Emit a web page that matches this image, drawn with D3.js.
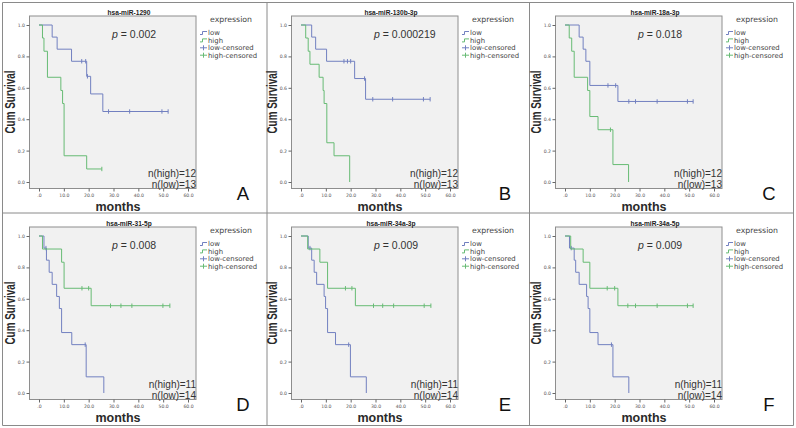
<!DOCTYPE html>
<html lang="en">
<head>
<meta charset="UTF-8">
<title>Kaplan-Meier survival by miRNA expression</title>
<style>
    body {
        margin: 0;
        background: #fff;
    }
    svg {
        display: block;
        font-family: "Liberation Sans", Arial, sans-serif;
    }
    .divider {
        stroke: #8a8a8a;
        stroke-width: 1;
    }
    .frame {
        fill: #f1f1f1;
        stroke: #8e8e8e;
        stroke-width: 1;
    }
    .axis path {
        display: none;
    }
    .axis line {
        stroke: #666;
    }
    .axis text {
        font-size: 4.6px;
        fill: #555;
        font-family: "DejaVu Sans", sans-serif;
    }
    .title {
        font-size: 6.6px;
        font-weight: bold;
        fill: #222;
    }
    .ylabel, .xlabel {
        font-weight: bold;
        fill: #2a2a2a;
    }
    .pval {
        font-size: 10.5px;
        fill: #333;
    }
    .ncount {
        font-size: 10px;
        fill: #333;
    }
    .letter {
        font-size: 18.5px;
        fill: #111;
    }
    .legend-title {
        font-size: 7.8px;
        fill: #444;
        font-family: "DejaVu Sans", sans-serif;
    }
    .legend-text {
        font-size: 6.9px;
        fill: #444;
        font-family: "DejaVu Sans", sans-serif;
    }
    .curve {
        fill: none;
        stroke-width: 1;
    }
</style>
</head>
<body>
<div id="chart"></div>
<script src="https://d3js.org/d3.v7.min.js"></script>
<script>
    var W = 796, H = 428;

    var titles = ["hsa-miR-1290", "hsa-miR-130b-3p", "hsa-miR-18a-3p",
                  "hsa-miR-31-5p", "hsa-miR-34a-3p", "hsa-miR-34a-5p"];
    var pValues = ["0.002", "0.000219", "0.018", "0.008", "0.009", "0.009"];
    var nHigh = [12, 12, 12, 11, 11, 11];
    var nLow = [13, 13, 13, 14, 14, 14];
    var letters = ["A", "B", "C", "D", "E", "F"];

    // [months, cum survival] at each drop
    var lowSteps = [
        [[0, 1], [5.3, 0.923], [7.3, 0.846], [13.1, 0.769], [19.2, 0.673], [20.8, 0.561], [25.7, 0.449]],
        [[0, 1], [4.3, 0.923], [5.9, 0.846], [10.3, 0.769], [21.6, 0.659], [26.0, 0.527]],
        [[0, 1], [5.7, 0.923], [7.3, 0.846], [8.4, 0.769], [10.0, 0.615], [21.3, 0.513]],
        [[0, 1], [2.0, 0.923], [3.0, 0.846], [4.1, 0.769], [5.3, 0.692], [7.1, 0.615], [8.2, 0.538], [9.1, 0.385], [13.2, 0.308], [19.0, 0.103], [26.1, 0]],
        [[0, 1], [2.9, 0.923], [4.3, 0.846], [5.3, 0.769], [6.3, 0.692], [9.3, 0.615], [9.9, 0.538], [10.7, 0.385], [13.9, 0.308], [19.9, 0.103], [26.3, 0]],
        [[0, 1], [1.8, 0.923], [3.7, 0.846], [4.3, 0.769], [5.7, 0.692], [8.7, 0.615], [9.3, 0.538], [10.0, 0.385], [13.3, 0.308], [19.3, 0.103], [25.7, 0]]
    ];
    var highSteps = [
        [[0, 1], [1.4, 0.917], [2.0, 0.833], [3.4, 0.667], [8.8, 0.583], [9.5, 0.5], [10.1, 0.167], [19.2, 0.083]],
        [[0, 1], [1.9, 0.917], [2.9, 0.833], [3.6, 0.75], [7.3, 0.667], [8.9, 0.583], [9.3, 0.5], [10.4, 0.25], [13.3, 0.167], [19.6, 0]],
        [[0, 1], [1.7, 0.917], [2.7, 0.833], [3.7, 0.667], [9.1, 0.583], [10.0, 0.417], [13.3, 0.333], [19.3, 0.111], [25.6, 0]],
        [[0, 1], [1.4, 0.917], [9.1, 0.833], [10.1, 0.667], [21.0, 0.556]],
        [[0, 1], [2.7, 0.917], [7.6, 0.833], [10.7, 0.667], [21.9, 0.556]],
        [[0, 1], [2.3, 0.917], [7.3, 0.833], [10.0, 0.667], [21.3, 0.556]]
    ];
    // censored times (months)
    var lowCensor = [
        [17.2, 18.8, 19.5, 28.0, 36.5, 49.5, 52.0],
        [17.3, 18.7, 20.0, 25.6, 28.9, 36.9, 49.3, 52.0],
        [17.3, 20.4, 25.7, 28.4, 37.1, 49.3, 51.6],
        [2.8, 18.6],
        [3.6, 19.2],
        [2.5, 18.7]
    ];
    var highCensor = [
        [25.3],
        [],
        [18.3],
        [17.3, 20.0, 28.8, 33.0, 37.4, 49.9, 52.7],
        [17.9, 20.5, 29.2, 32.9, 37.3, 49.6, 52.3],
        [17.0, 20.0, 25.3, 28.4, 37.1, 49.3, 51.6]
    ];

    var xTicks = [0, 10, 20, 30, 40, 50, 60];
    var yTicks = [0, 0.2, 0.4, 0.6, 0.8, 1.0];
    var legendLabels = ["low", "high", "low-censored", "high-censored"];

    var lowColor = "#7280c0";
    var highColor = "#67bb74";

    var colX = [3, 265, 529];
    var rowY = [2, 213];

    var svg = d3.select("#chart").append("svg")
        .attr("width", W)
        .attr("height", H);

    svg.append("rect")
        .attr("width", W)
        .attr("height", H)
        .attr("fill", "#fff");

    // panel grid lines
    [2.5, 267, 529.5, 793.5].forEach(function(x) {
        svg.append("line").attr("class", "divider")
            .attr("x1", x).attr("x2", x).attr("y1", 2.5).attr("y2", 425.5);
    });
    [2.5, 213, 425.5].forEach(function(y) {
        svg.append("line").attr("class", "divider")
            .attr("x1", 2.5).attr("x2", 793.5).attr("y1", y).attr("y2", y);
    });

    function levelAt(steps, t) {
        var s = 1;
        steps.forEach(function(d) { if (d[0] <= t) s = d[1]; });
        return s;
    }

    function drawPanel(i) {
        var g = svg.append("g")
            .attr("transform", "translate(" + colX[i % 3] + "," + rowY[Math.floor(i / 3)] + ")");

        var x = d3.scaleLinear().domain([0, 60]).range([36, 185]);
        var y = d3.scaleLinear().domain([0, 1]).range([180, 23]);

        g.append("rect").attr("class", "frame")
            .attr("x", 26.5).attr("y", 14)
            .attr("width", 166.5).attr("height", 172.5);

        g.append("g").attr("class", "axis")
            .attr("transform", "translate(26.5,0)")
            .call(d3.axisLeft(y).tickValues(yTicks).tickSize(3).tickPadding(1.5).tickFormat(d3.format(".1f")));

        g.append("g").attr("class", "axis")
            .attr("transform", "translate(0,186.5)")
            .call(d3.axisBottom(x).tickValues(xTicks).tickSize(3).tickPadding(2)
                .tickFormat(function(d) { return d === 0 ? ".0" : d.toFixed(1); }));

        var line = d3.line()
            .x(function(d) { return x(d[0]); })
            .y(function(d) { return y(d[1]); })
            .curve(d3.curveStepAfter);

        function drawGroup(steps, censor, color) {
            var last = steps[steps.length - 1];
            var end = d3.max([last[0], d3.max(censor) || 0]);
            var pts = steps.slice();
            if (end > last[0]) pts.push([end, last[1]]);
            g.append("path").attr("class", "curve")
                .attr("stroke", color)
                .attr("d", line(pts));
            g.selectAll(null)
                .data(censor)
                .enter().append("line")
                .attr("stroke", color)
                .attr("x1", function(d) { return x(d); })
                .attr("x2", function(d) { return x(d); })
                .attr("y1", function(d) { return y(levelAt(steps, d)) - 2.2; })
                .attr("y2", function(d) { return y(levelAt(steps, d)) + 2.2; });
        }
        drawGroup(lowSteps[i], lowCensor[i], lowColor);
        drawGroup(highSteps[i], highCensor[i], highColor);

        g.append("text").attr("class", "title")
            .attr("x", 126).attr("y", 12.5)
            .attr("text-anchor", "middle")
            .text(titles[i]);

        var p = g.append("text").attr("class", "pval")
            .attr("x", 109).attr("y", 35.5);
        p.append("tspan").attr("font-style", "italic").text("p");
        p.append("tspan").text(" = " + pValues[i]);

        g.append("text").attr("class", "ncount")
            .attr("x", 193).attr("y", 174.5)
            .attr("text-anchor", "end")
            .text("n(high)=" + nHigh[i]);
        g.append("text").attr("class", "ncount")
            .attr("x", 193).attr("y", 185.5)
            .attr("text-anchor", "end")
            .text("n(low)=" + nLow[i]);

        g.append("text").attr("class", "letter")
            .attr("x", 240).attr("y", 197.5)
            .attr("text-anchor", "middle")
            .text(letters[i]);

        g.append("text").attr("class", "ylabel")
            .attr("transform", "translate(12,100) rotate(-90)")
            .attr("text-anchor", "middle")
            .attr("font-size", "14px")
            .attr("textLength", 63)
            .attr("lengthAdjust", "spacingAndGlyphs")
            .text("Cum Survival");

        g.append("text").attr("class", "xlabel")
            .attr("x", 115).attr("y", 208.5)
            .attr("text-anchor", "middle")
            .attr("font-size", "12.5px")
            .text("months");

        // legend
        var lg = g.append("g").attr("transform", "translate(197,0)");
        lg.append("text").attr("class", "legend-title")
            .attr("x", 31).attr("y", 19.5)
            .attr("text-anchor", "middle")
            .text("expression");
        var item = lg.selectAll(".item")
            .data(legendLabels)
            .enter().append("g")
            .attr("class", "item")
            .attr("transform", function(d, k) { return "translate(0," + (31 + k * 7.4) + ")"; });
        item.append("path")
            .attr("fill", "none")
            .attr("stroke", function(d, k) { return k % 2 === 0 ? lowColor : highColor; })
            .attr("d", function(d, k) {
                return k < 2 ? "M0,1.5 H2.5 V-1.5 H7" : "M0,0 H7 M3.5,-2.5 V2.5";
            });
        item.append("text").attr("class", "legend-text")
            .attr("x", 8).attr("y", 2.3)
            .text(function(d) { return d; });
    }

    for (var i = 0; i < 6; i++) drawPanel(i);
</script>
</body>
</html>
